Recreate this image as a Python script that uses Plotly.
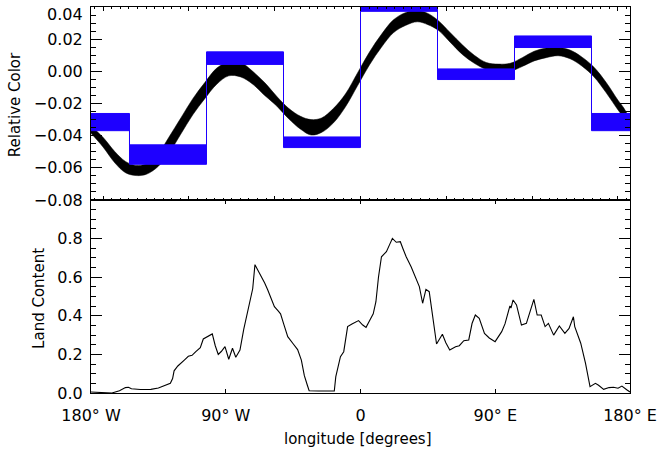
import plotly.graph_objects as go

# ---------------- data ----------------
# Blue step band (7 longitude bins of 360/7 deg, first/last bin wraps)
BIN_EDGES = [-180, -154.29, -102.86, -51.43, 0, 51.43, 102.86, 154.29, 180]
BLUE_HI = [-0.0262, -0.0457, 0.0121, -0.0408, 0.0415, 0.0015, 0.0220, -0.0262]
BLUE_LO = [-0.0369, -0.0578, 0.0043, -0.0474, 0.0373, -0.0051, 0.0148, -0.0369]

# Black envelope band
BAND_LON = [-180, -172, -164, -157, -150, -143, -135, -128, -120, -112, -104, -96,
            -88, -80, -72, -64, -56, -48, -40, -33, -26, -18, -10, -2, 6, 14, 22,
            30, 38, 45, 52, 60, 68, 76, 84, 92, 100, 108, 116, 124, 132, 140, 148,
            156, 164, 172, 176, 180]
BLACK_HI = [-0.034, -0.041, -0.050, -0.056, -0.0585, -0.0575, -0.051, -0.041, -0.029,
            -0.017, -0.007, 0.002, 0.0058, 0.0055, 0.000, -0.007, -0.0155, -0.023,
            -0.028, -0.030, -0.029, -0.023, -0.014, -0.001, 0.012, 0.023, 0.032,
            0.0365, 0.0378, 0.0360, 0.0315, 0.024, 0.0165, 0.010, 0.0055, 0.0045,
            0.0050, 0.0085, 0.0125, 0.0145, 0.0148, 0.0132, 0.0088, 0.0025, -0.0068,
            -0.018, -0.023, -0.030]
BLACK_LO = [-0.0385, -0.047, -0.057, -0.0630, -0.0648, -0.0640, -0.059, -0.051, -0.039,
            -0.027, -0.017, -0.008, -0.0028, -0.0035, -0.008, -0.015, -0.0215, -0.0295,
            -0.036, -0.0396, -0.038, -0.032, -0.022, -0.009, 0.004, 0.015, 0.024,
            0.0285, 0.0308, 0.0290, 0.0255, 0.018, 0.0105, 0.005, 0.0012, -0.0003,
            0.0000, 0.0030, 0.0065, 0.0085, 0.0097, 0.0078, 0.0032, -0.0035, -0.0132,
            -0.024, -0.029, -0.036]

# Land content
LAND_LON = [-180, -172, -166, -161, -157, -155, -153, -147, -140, -135, -131, -127,
            -125.5, -124.5, -122, -119.5, -117.5, -115, -112.5, -110, -107, -105, -102,
            -99, -97, -95, -93, -90.5, -88, -85.5, -83.3, -80.5, -78, -76.5, -74.5, -72,
            -70.5, -68, -66, -64, -62, -59.5, -57.5, -55, -53.4, -51, -48.6, -45, -42,
            -39.5, -38.3, -37.5, -35.5, -34.3, -28, -20, -17.5, -16.5, -13.4, -11.2,
            -8.6, -5.7, -1.3, 1.5, 3.7, 6.3, 8.5, 10.3, 12, 14, 17.3, 19.5, 21.3, 23.9,
            26.6, 28.5, 30.5, 33.8, 37.1, 39.3, 41.5, 43.7, 45.9, 48.1, 50.8, 54.7, 57,
            59.6, 63.5, 66, 69, 72.3, 74.5, 76.7, 79.3, 82.8, 86, 89.9, 94.3, 96.5, 99.8,
            100.5, 101.9, 104.2, 107.5, 110.8, 113, 115.8, 118, 120.7, 123.3, 125.5,
            129, 132.8, 136.5, 139.3, 142.2, 143.1, 147.1, 150.3, 153.3, 156.9, 159,
            162.4, 166, 169, 172, 174.6, 177.8, 180]
LAND_VAL = [0.005, 0.004, 0.0, 0.012, 0.028, 0.03, 0.022, 0.018, 0.019, 0.026, 0.036,
            0.05, 0.075, 0.115, 0.14, 0.16, 0.172, 0.19, 0.195, 0.214, 0.235, 0.28, 0.295,
            0.306, 0.245, 0.2, 0.215, 0.24, 0.175, 0.232, 0.185, 0.222, 0.33, 0.38,
            0.445, 0.54, 0.665, 0.63, 0.6, 0.57, 0.535, 0.49, 0.447, 0.425, 0.41, 0.35,
            0.292, 0.255, 0.225, 0.17, 0.12, 0.09, 0.04, 0.012, 0.01, 0.01, 0.01, 0.085,
            0.188, 0.214, 0.344, 0.358, 0.375, 0.352, 0.34, 0.378, 0.41, 0.473, 0.6,
            0.706, 0.732, 0.77, 0.801, 0.781, 0.784, 0.745, 0.706, 0.654, 0.594, 0.551,
            0.465, 0.537, 0.525, 0.395, 0.254, 0.304, 0.26, 0.223, 0.24, 0.245, 0.271,
            0.275, 0.36, 0.404, 0.387, 0.309, 0.285, 0.266, 0.318, 0.358, 0.451, 0.44,
            0.482, 0.456, 0.352, 0.361, 0.421, 0.485, 0.404, 0.404, 0.344, 0.361, 0.3,
            0.347, 0.309, 0.335, 0.395, 0.344, 0.258, 0.154, 0.033, 0.05, 0.04, 0.019,
            0.028, 0.03, 0.025, 0.036, 0.017, 0.005]

X_TICKS = [-180, -90, 0, 90, 180]
X_TICKTEXT = ["180° W", "90° W", "0", "90° E", "180° E"]
Y1_TICKS = [-0.08, -0.06, -0.04, -0.02, 0.00, 0.02, 0.04]
Y1_TICKTEXT = ["\u22120.08", "\u22120.06", "\u22120.04", "\u22120.02", "0.00", "0.02", ""]
Y2_TICKS = [0.0, 0.2, 0.4, 0.6, 0.8]
Y2_TICKTEXT = ["0.0", "0.2", "0.4", "0.6", "0.8"]

BLUE = "rgb(30,0,255)"
FONT = "DejaVu Sans"

fig = go.Figure()

# black envelope band
fig.add_trace(go.Scatter(x=BAND_LON, y=BLACK_HI, mode="lines",
                         line=dict(color="black", width=0.5, shape="spline"),
                         xaxis="x", yaxis="y", showlegend=False, hoverinfo="skip"))
fig.add_trace(go.Scatter(x=BAND_LON, y=BLACK_LO, mode="lines",
                         line=dict(color="black", width=0.5, shape="spline"),
                         fill="tonexty", fillcolor="black",
                         xaxis="x", yaxis="y", showlegend=False, hoverinfo="skip"))

# blue step band
step_x = BIN_EDGES
step_hi = BLUE_HI + [BLUE_HI[-1]]
step_lo = BLUE_LO + [BLUE_LO[-1]]
fig.add_trace(go.Scatter(x=step_x, y=step_hi, mode="lines",
                         line=dict(color=BLUE, width=1, shape="hv"),
                         xaxis="x", yaxis="y", showlegend=False, hoverinfo="skip"))
fig.add_trace(go.Scatter(x=step_x, y=step_lo, mode="lines",
                         line=dict(color=BLUE, width=1, shape="hv"),
                         fill="tonexty", fillcolor=BLUE,
                         xaxis="x", yaxis="y", showlegend=False, hoverinfo="skip"))

# land content
fig.add_trace(go.Scatter(x=LAND_LON, y=LAND_VAL, mode="lines",
                         line=dict(color="black", width=1.1),
                         xaxis="x2", yaxis="y2", showlegend=False, hoverinfo="skip"))

axis_common = dict(showline=True, linecolor="black", linewidth=1, mirror="allticks",
                   ticks="inside", tickcolor="black", tickwidth=1, showgrid=False,
                   zeroline=False, tickfont=dict(family=FONT, size=16, color="black"))

fig.update_layout(
    width=663, height=456,
    margin=dict(l=91, r=26, t=6, b=63),
    paper_bgcolor="white", plot_bgcolor="white",
    xaxis=dict(domain=[0, 1], anchor="y", range=[-180, 180],
               tickmode="linear", tick0=0, dtick=57.29578, ticklen=4,
               showticklabels=False,
               minor=dict(tickmode="linear", tick0=0, dtick=5.729578, ticklen=2,
                          ticks="inside", tickcolor="black", showgrid=False),
               **axis_common),
    yaxis=dict(domain=[0.5, 1], anchor="x", range=[-0.08, 0.04],
               tickmode="array", tickvals=Y1_TICKS, ticktext=Y1_TICKTEXT, ticklen=11,
               ticklabelstandoff=4,
               minor=dict(tickmode="linear", tick0=0, dtick=0.005, ticklen=5,
                          ticks="inside", tickcolor="black", showgrid=False),
               **axis_common),
    xaxis2=dict(domain=[0, 1], anchor="y2", range=[-180, 180],
                tickmode="array", tickvals=X_TICKS, ticktext=X_TICKTEXT, ticklen=4,
                ticklabelstandoff=8, ticklabeloverflow="allow",
                **axis_common),
    yaxis2=dict(domain=[0, 0.5], anchor="x2", range=[0, 1],
                tickmode="array", tickvals=Y2_TICKS, ticktext=Y2_TICKTEXT, ticklen=11,
                ticklabelstandoff=4,
                minor=dict(tickmode="linear", tick0=0, dtick=0.05, ticklen=5,
                           ticks="inside", tickcolor="black", showgrid=False),
                **axis_common),
    annotations=[
        dict(text="0.04", xref="paper", yref="paper", x=-0.011, y=(393 - 13.5) / 387,
             xanchor="right", yanchor="middle", showarrow=False,
             font=dict(family=FONT, size=16, color="black")),
        dict(text="Relative Color", xref="paper", yref="paper", x=(14 - 91) / 546,
             y=(393 - 103.5) / 387, textangle=-90, xanchor="center", yanchor="middle",
             showarrow=False, font=dict(family=FONT, size=15, color="black")),
        dict(text="Land Content", xref="paper", yref="paper", x=(39 - 91) / 546,
             y=(393 - 298) / 387, textangle=-90, xanchor="center", yanchor="middle",
             showarrow=False, font=dict(family=FONT, size=15, color="black")),
        dict(text="longitude [degrees]", xref="paper", yref="paper", x=(361 - 91) / 546,
             y=(393 - 439) / 387, xanchor="center", yanchor="middle",
             showarrow=False, font=dict(family=FONT, size=15, color="black")),
    ],
)

fig.write_html("out.html",
               config={"displayModeBar": False},
               post_script="document.body.style.margin='0px';"
                           "document.body.style.overflow='hidden';")
